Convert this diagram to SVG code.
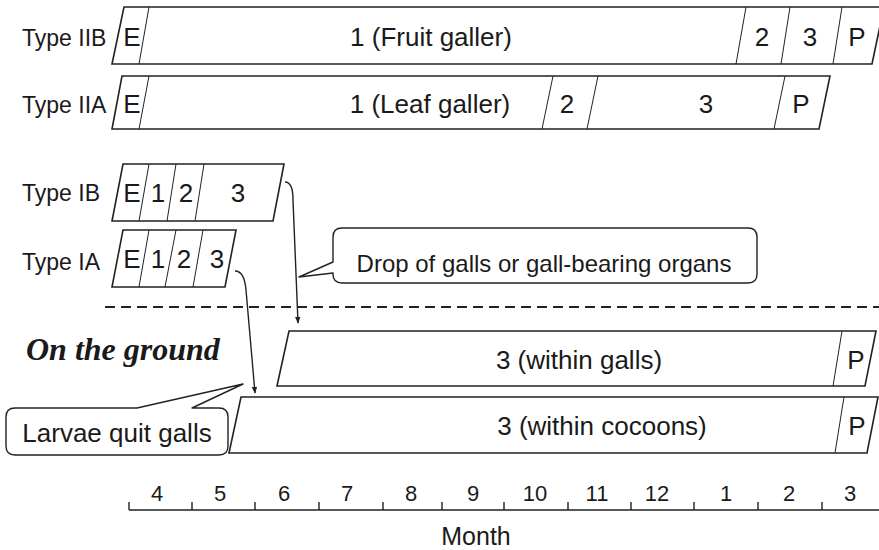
<svg xmlns="http://www.w3.org/2000/svg" width="879" height="550" viewBox="0 0 879 550">
<defs>
<style>
.t{font-family:"Liberation Sans",Arial,sans-serif;fill:#1a1a1a}
.lab{font-size:23px}
.bt{font-size:26px;text-anchor:middle}
.mo{font-size:22px;text-anchor:middle}
.bar{fill:#fff;stroke:#222;stroke-width:1.6;stroke-linejoin:miter}
.div{stroke:#222;stroke-width:1;fill:none}
.con{fill:none;stroke:#222;stroke-width:1.4}
.call{fill:#fff;stroke:#222;stroke-width:1.4;stroke-linejoin:round}
</style>
<marker id="ah" viewBox="0 0 10 10" refX="9" refY="5" markerWidth="7" markerHeight="7" orient="auto" markerUnits="userSpaceOnUse">
<path d="M0,1 L10,5 L0,9 Z" fill="#222"/>
</marker>
</defs>
<rect width="879" height="550" fill="#fff"/>

<g id="typeIIB">
<text class="t lab" x="22" y="46">Type IIB</text>
<polygon class="bar" points="124,7 884,7 872,64 112,64"/>
<line class="div" x1="149" y1="7" x2="139" y2="64"/>
<line class="div" x1="746" y1="7" x2="736" y2="64"/>
<line class="div" x1="790" y1="7" x2="781" y2="64"/>
<line class="div" x1="842" y1="7" x2="833" y2="64"/>
<text class="t bt" x="132" y="46">E</text>
<text class="t bt" x="431" y="46">1 (Fruit galler)</text>
<text class="t bt" x="762" y="46">2</text>
<text class="t bt" x="810" y="46">3</text>
<text class="t bt" x="857" y="46">P</text>
</g>

<g id="typeIIA">
<text class="t lab" x="22" y="113">Type IIA</text>
<polygon class="bar" points="122,76 830,76 819,129 112,129"/>
<line class="div" x1="149" y1="76" x2="139" y2="129"/>
<line class="div" x1="553" y1="76" x2="542" y2="129"/>
<line class="div" x1="598" y1="76" x2="587" y2="129"/>
<line class="div" x1="785" y1="76" x2="774" y2="129"/>
<text class="t bt" x="132" y="113">E</text>
<text class="t bt" x="430" y="113">1 (Leaf galler)</text>
<text class="t bt" x="567" y="113">2</text>
<text class="t bt" x="706" y="113">3</text>
<text class="t bt" x="801" y="113">P</text>
</g>

<g id="typeIB">
<text class="t lab" x="22" y="201">Type IB</text>
<polygon class="bar" points="123,164 284,164 273,221 112,221"/>
<line class="div" x1="149" y1="164" x2="139" y2="221"/>
<line class="div" x1="176" y1="164" x2="167" y2="221"/>
<line class="div" x1="204" y1="164" x2="195" y2="221"/>
<text class="t bt" x="132" y="202">E</text>
<text class="t bt" x="158" y="202">1</text>
<text class="t bt" x="186" y="202">2</text>
<text class="t bt" x="238" y="202">3</text>
</g>

<g id="typeIA">
<text class="t lab" x="22" y="270">Type IA</text>
<polygon class="bar" points="123,230 236,230 225,287 112,287"/>
<line class="div" x1="149" y1="230" x2="139" y2="287"/>
<line class="div" x1="176" y1="230" x2="165" y2="287"/>
<line class="div" x1="203" y1="230" x2="193" y2="287"/>
<text class="t bt" x="132" y="268">E</text>
<text class="t bt" x="158" y="268">1</text>
<text class="t bt" x="184" y="268">2</text>
<text class="t bt" x="217" y="268">3</text>
</g>

<g id="ground-line">
<line x1="105" y1="307" x2="879" y2="307" stroke="#222" stroke-width="2" stroke-dasharray="10,6"/>
<text x="26" y="360" font-family="'Liberation Serif','Times New Roman',serif" font-size="32" font-weight="bold" font-style="italic" fill="#1a1a1a">On the ground</text>
</g>

<g id="withinGalls">
<polygon class="bar" points="289,331 876,331 865,386 277,386"/>
<line class="div" x1="842" y1="331" x2="833" y2="386"/>
<text class="t bt" x="579" y="369">3 (within galls)</text>
<text class="t bt" x="856" y="369">P</text>
</g>

<g id="withinCocoons">
<polygon class="bar" points="241,397 878,397 867,453 229,453"/>
<line class="div" x1="844" y1="397" x2="835" y2="453"/>
<text class="t bt" x="602" y="435">3 (within cocoons)</text>
<text class="t bt" x="857" y="435">P</text>
</g>

<g id="connectors">
<path class="con" d="M285,182 C291,182 293,188 293,200 L298,323" marker-end="url(#ah)"/>
<path class="con" d="M235,271 C242,271 245,278 246,290 L255,393" marker-end="url(#ah)"/>
</g>

<g id="callout-drop">
<path class="call" d="M342,228 H748 Q757,228 757,237 V274 Q757,283 748,283 H342 Q333,283 333,274 V273 L299,277 L333,262 V237 Q333,228 342,228 Z"/>
<text class="t" x="544" y="272" font-size="24" text-anchor="middle">Drop of galls or gall-bearing organs</text>
</g>

<g id="callout-larvae">
<path class="call" d="M15,408 H137 L243,384 L192,408 H219 Q228,408 228,417 V446 Q228,455 219,455 H15 Q6,455 6,446 V417 Q6,408 15,408 Z"/>
<text class="t" x="117" y="442" font-size="26" text-anchor="middle">Larvae quit galls</text>
</g>

<g id="axis">
<path class="con" d="M129,510 H879 M129,502 V510 M192,502 V510 M255,502 V510 M319,502 V510 M383,502 V510 M442,502 V510 M504,502 V510 M568,502 V510 M631,502 V510 M694,502 V510 M758,502 V510 M822,502 V510" stroke-width="1.6"/>
<text class="t mo" x="157" y="501">4</text>
<text class="t mo" x="220" y="501">5</text>
<text class="t mo" x="284" y="501">6</text>
<text class="t mo" x="347" y="501">7</text>
<text class="t mo" x="411" y="501">8</text>
<text class="t mo" x="473" y="501">9</text>
<text class="t mo" x="535" y="501">10</text>
<text class="t mo" x="597" y="501">11</text>
<text class="t mo" x="657" y="501">12</text>
<text class="t mo" x="726" y="501">1</text>
<text class="t mo" x="789" y="501">2</text>
<text class="t mo" x="850" y="501">3</text>
<text class="t" x="476" y="545" font-size="25" text-anchor="middle">Month</text>
</g>
</svg>
